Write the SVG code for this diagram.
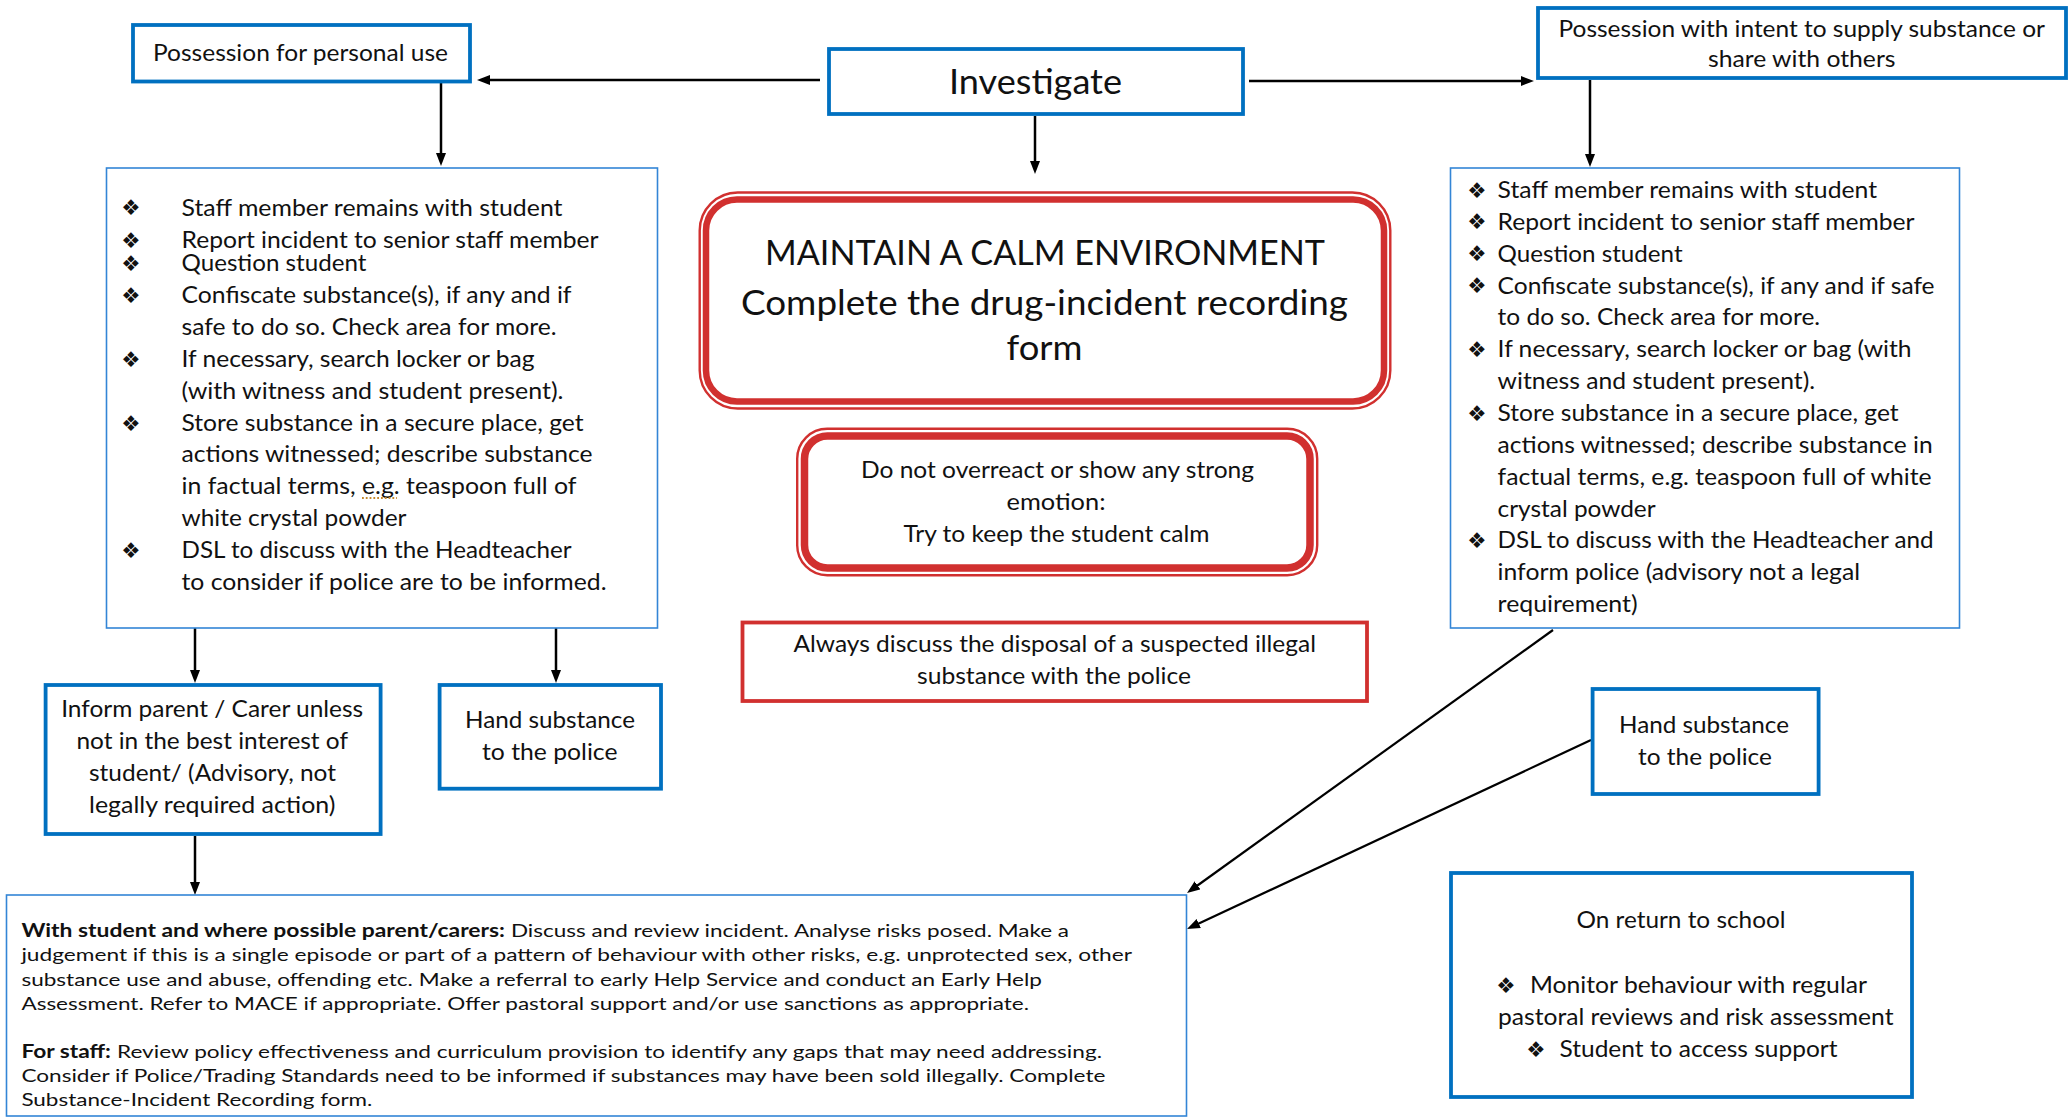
<svg xmlns="http://www.w3.org/2000/svg" width="2071" height="1118" viewBox="0 0 2071 1118">
<style>
.t{font-family:Lato,"Open Sans","Liberation Sans",sans-serif;font-size:23.5px;fill:#111}
.big{font-family:Lato,"Open Sans","Liberation Sans",sans-serif;font-size:34px;fill:#111}
.sm{font-family:Lato,"Open Sans","Liberation Sans",sans-serif;font-size:18px;fill:#111}
.b{font-weight:bold}
.bu{font-family:"DejaVu Sans",sans-serif;font-size:21.5px;fill:#111;text-anchor:middle}
.blue{fill:#fff;stroke:#0070C0;stroke-width:3.8}
.thin{fill:#fff;stroke:#3385D6;stroke-width:1.6}
.red{fill:none;stroke:#D1302F}
.c{stroke:#000;stroke-width:2.5;fill:none;marker-end:url(#ah)}
.d{stroke:#000;stroke-width:2.2;fill:none;marker-end:url(#ah)}
</style>
<defs>
<marker id="ah" markerUnits="userSpaceOnUse" markerWidth="14" markerHeight="11" refX="7" refY="5" orient="auto" viewBox="0 0 14 10">
<path d="M0,0 L13,5 L0,10 z" fill="#000"/>
</marker>
</defs>
<rect width="2071" height="1118" fill="#fff"/>

<g id="connectors">
<line class="c" x1="820" y1="80" x2="483" y2="80"/>
<line class="c" x1="1249" y1="81" x2="1528" y2="81"/>
<line class="c" x1="1035" y1="116" x2="1035" y2="168"/>
<line class="c" x1="441" y1="83" x2="441" y2="160"/>
<line class="c" x1="1590" y1="80" x2="1590" y2="161"/>
<line class="c" x1="195" y1="628" x2="195" y2="677"/>
<line class="c" x1="556" y1="628" x2="556" y2="677"/>
<line class="c" x1="195" y1="836" x2="195" y2="889"/>
<line class="d" x1="1553" y1="630" x2="1191.9" y2="889.5"/>
<line class="d" x1="1591" y1="740" x2="1192.4" y2="926.5"/>
</g>

<g id="personal-use">
<rect class="blue" x="133" y="25" width="337" height="56.5"/>
<text class="t" x="153" y="61" textLength="295" lengthAdjust="spacingAndGlyphs">Possession for personal use</text>
</g>

<g id="investigate">
<rect class="blue" x="829" y="49" width="414" height="65"/>
<text class="big" x="949" y="94" textLength="173" lengthAdjust="spacingAndGlyphs">Investigate</text>
</g>

<g id="supply">
<rect class="blue" x="1538" y="8" width="528" height="70"/>
<text class="t" x="1558.5" y="37" textLength="486.5" lengthAdjust="spacingAndGlyphs">Possession with intent to supply substance or</text>
<text class="t" x="1708" y="67" textLength="187.5" lengthAdjust="spacingAndGlyphs">share with others</text>
</g>

<g id="left-list">
<rect class="thin" x="106.5" y="168" width="551" height="460"/>
<text class="bu" x="131" y="215">❖</text>
<text class="bu" x="131" y="247.5">❖</text>
<text class="bu" x="131" y="270.5">❖</text>
<text class="bu" x="131" y="302.5">❖</text>
<text class="bu" x="131" y="366.5">❖</text>
<text class="bu" x="131" y="430.5">❖</text>
<text class="bu" x="131" y="557.5">❖</text>
<text class="t" x="181.5" y="215.5" textLength="381" lengthAdjust="spacingAndGlyphs">Staff member remains with student</text>
<text class="t" x="181.5" y="247.5" textLength="417" lengthAdjust="spacingAndGlyphs">Report incident to senior staff member</text>
<text class="t" x="181.5" y="271" textLength="185" lengthAdjust="spacingAndGlyphs">Question student</text>
<text class="t" x="181.5" y="303" textLength="390" lengthAdjust="spacingAndGlyphs">Confiscate substance(s), if any and if</text>
<text class="t" x="181.5" y="335" textLength="375" lengthAdjust="spacingAndGlyphs">safe to do so. Check area for more.</text>
<text class="t" x="181.5" y="367" textLength="353" lengthAdjust="spacingAndGlyphs">If necessary, search locker or bag</text>
<text class="t" x="181.5" y="399" textLength="382" lengthAdjust="spacingAndGlyphs">(with witness and student present).</text>
<text class="t" x="181.5" y="431" textLength="402" lengthAdjust="spacingAndGlyphs">Store substance in a secure place, get</text>
<text class="t" x="181.5" y="462" textLength="411" lengthAdjust="spacingAndGlyphs">actions witnessed; describe substance</text>
<text class="t" x="181.5" y="494" textLength="395" lengthAdjust="spacingAndGlyphs">in factual terms, e.g. teaspoon full of</text>
<line x1="362" y1="498" x2="397" y2="498" stroke="#C4872A" stroke-width="1.8" stroke-dasharray="1.8,2"/>
<text class="t" x="181.5" y="526" textLength="225" lengthAdjust="spacingAndGlyphs">white crystal powder</text>
<text class="t" x="181.5" y="558" textLength="390" lengthAdjust="spacingAndGlyphs">DSL to discuss with the Headteacher</text>
<text class="t" x="181.5" y="590" textLength="425" lengthAdjust="spacingAndGlyphs">to consider if police are to be informed.</text>
</g>

<g id="calm">
<rect class="red" x="699.7" y="192.5" width="690.6" height="216" rx="38" stroke-width="2.4"/>
<rect class="red" x="706" y="199.5" width="678" height="202" rx="31" stroke-width="6.5"/>
<text class="big" x="765" y="265" textLength="560" lengthAdjust="spacingAndGlyphs">MAINTAIN A CALM ENVIRONMENT</text>
<text class="big" x="741" y="314.5" textLength="607" lengthAdjust="spacingAndGlyphs">Complete the drug-incident recording</text>
<text class="big" x="1006.5" y="360" textLength="76" lengthAdjust="spacingAndGlyphs">form</text>
</g>

<g id="no-overreact">
<rect class="red" x="797.2" y="428.8" width="520" height="146.4" rx="30" stroke-width="2.4"/>
<rect class="red" x="804.5" y="436" width="505.5" height="132" rx="23" stroke-width="7.5"/>
<text class="t" x="861" y="477.5" textLength="393" lengthAdjust="spacingAndGlyphs">Do not overreact or show any strong</text>
<text class="t" x="1006.5" y="509.5" textLength="99" lengthAdjust="spacingAndGlyphs">emotion:</text>
<text class="t" x="903.5" y="542" textLength="306" lengthAdjust="spacingAndGlyphs">Try to keep the student calm</text>
</g>

<g id="disposal">
<rect x="742.5" y="622.5" width="624.5" height="78.5" fill="#fff" stroke="#D1302F" stroke-width="3.8"/>
<text class="t" x="793.5" y="652" textLength="522.5" lengthAdjust="spacingAndGlyphs">Always discuss the disposal of a suspected illegal</text>
<text class="t" x="917" y="684" textLength="274" lengthAdjust="spacingAndGlyphs">substance with the police</text>
</g>

<g id="right-list">
<rect class="thin" x="1450.5" y="168" width="509" height="460"/>
<text class="bu" x="1477" y="197.5">❖</text>
<text class="bu" x="1477" y="229.4">❖</text>
<text class="bu" x="1477" y="261.2">❖</text>
<text class="bu" x="1477" y="293.1">❖</text>
<text class="bu" x="1477" y="356.8">❖</text>
<text class="bu" x="1477" y="420.5">❖</text>
<text class="bu" x="1477" y="547.9">❖</text>
<text class="t" x="1497.6" y="198" textLength="379.5" lengthAdjust="spacingAndGlyphs">Staff member remains with student</text>
<text class="t" x="1497.6" y="229.9" textLength="417" lengthAdjust="spacingAndGlyphs">Report incident to senior staff member</text>
<text class="t" x="1497.6" y="261.7" textLength="185" lengthAdjust="spacingAndGlyphs">Question student</text>
<text class="t" x="1497.6" y="293.6" textLength="437" lengthAdjust="spacingAndGlyphs">Confiscate substance(s), if any and if safe</text>
<text class="t" x="1497.6" y="325.4" textLength="322.5" lengthAdjust="spacingAndGlyphs">to do so. Check area for more.</text>
<text class="t" x="1497.6" y="357.3" textLength="414" lengthAdjust="spacingAndGlyphs">If necessary, search locker or bag (with</text>
<text class="t" x="1497.6" y="389.1" textLength="317.5" lengthAdjust="spacingAndGlyphs">witness and student present).</text>
<text class="t" x="1497.6" y="421" textLength="401" lengthAdjust="spacingAndGlyphs">Store substance in a secure place, get</text>
<text class="t" x="1497.6" y="452.8" textLength="435" lengthAdjust="spacingAndGlyphs">actions witnessed; describe substance in</text>
<text class="t" x="1497.6" y="484.7" textLength="434" lengthAdjust="spacingAndGlyphs">factual terms, e.g. teaspoon full of white</text>
<text class="t" x="1497.6" y="516.5" textLength="158" lengthAdjust="spacingAndGlyphs">crystal powder</text>
<text class="t" x="1497.6" y="548.4" textLength="436" lengthAdjust="spacingAndGlyphs">DSL to discuss with the Headteacher and</text>
<text class="t" x="1497.6" y="580.2" textLength="362.5" lengthAdjust="spacingAndGlyphs">inform police (advisory not a legal</text>
<text class="t" x="1497.6" y="612" textLength="140" lengthAdjust="spacingAndGlyphs">requirement)</text>
</g>

<g id="inform-parent">
<rect class="blue" x="45.6" y="685" width="335" height="149"/>
<text class="t" x="61.2" y="717" textLength="302" lengthAdjust="spacingAndGlyphs">Inform parent / Carer unless</text>
<text class="t" x="76.5" y="749" textLength="271.5" lengthAdjust="spacingAndGlyphs">not in the best interest of</text>
<text class="t" x="89" y="781" textLength="247" lengthAdjust="spacingAndGlyphs">student/ (Advisory, not</text>
<text class="t" x="89" y="813" textLength="246.5" lengthAdjust="spacingAndGlyphs">legally required action)</text>
</g>

<g id="hand-left">
<rect class="blue" x="439.6" y="685" width="221.4" height="103.7"/>
<text class="t" x="465" y="728" textLength="170" lengthAdjust="spacingAndGlyphs">Hand substance</text>
<text class="t" x="482" y="760" textLength="135.5" lengthAdjust="spacingAndGlyphs">to the police</text>
</g>

<g id="hand-right">
<rect class="blue" x="1592.6" y="689" width="226" height="105"/>
<text class="t" x="1619" y="733" textLength="170" lengthAdjust="spacingAndGlyphs">Hand substance</text>
<text class="t" x="1638" y="765" textLength="134" lengthAdjust="spacingAndGlyphs">to the police</text>
</g>

<g id="follow-up">
<rect class="thin" x="6.5" y="895" width="1180" height="221"/>
<text class="sm b" x="21.4" y="936.5" textLength="483.6" lengthAdjust="spacingAndGlyphs">With student and where possible parent/carers:</text>
<text class="sm" x="511" y="936.5" textLength="558" lengthAdjust="spacingAndGlyphs">Discuss and review incident. Analyse risks posed. Make a</text>
<text class="sm" x="21.4" y="961" textLength="1110.6" lengthAdjust="spacingAndGlyphs">judgement if this is a single episode or part of a pattern of behaviour with other risks, e.g. unprotected sex, other</text>
<text class="sm" x="21.4" y="986" textLength="1020.6" lengthAdjust="spacingAndGlyphs">substance use and abuse, offending etc. Make a referral to early Help Service and conduct an Early Help</text>
<text class="sm" x="21.4" y="1009.5" textLength="1007.6" lengthAdjust="spacingAndGlyphs">Assessment. Refer to MACE if appropriate. Offer pastoral support and/or use sanctions as appropriate.</text>
<text class="sm b" x="21.4" y="1058" textLength="89.6" lengthAdjust="spacingAndGlyphs">For staff:</text>
<text class="sm" x="117" y="1058" textLength="985" lengthAdjust="spacingAndGlyphs">Review policy effectiveness and curriculum provision to identify any gaps that may need addressing.</text>
<text class="sm" x="21.4" y="1082" textLength="1084" lengthAdjust="spacingAndGlyphs">Consider if Police/Trading Standards need to be informed if substances may have been sold illegally. Complete</text>
<text class="sm" x="21.4" y="1106" textLength="351" lengthAdjust="spacingAndGlyphs">Substance-Incident Recording form.</text>
</g>

<g id="return-to-school">
<rect class="blue" x="1451" y="873" width="461" height="224"/>
<text class="t" x="1576.5" y="928" textLength="209" lengthAdjust="spacingAndGlyphs">On return to school</text>
<text class="bu" x="1506" y="992.5">❖</text>
<text class="t" x="1530" y="993" textLength="337" lengthAdjust="spacingAndGlyphs">Monitor behaviour with regular</text>
<text class="t" x="1498" y="1025" textLength="395.5" lengthAdjust="spacingAndGlyphs">pastoral reviews and risk assessment</text>
<text class="bu" x="1536" y="1056.5">❖</text>
<text class="t" x="1559.5" y="1057" textLength="278" lengthAdjust="spacingAndGlyphs">Student to access support</text>
</g>
</svg>
